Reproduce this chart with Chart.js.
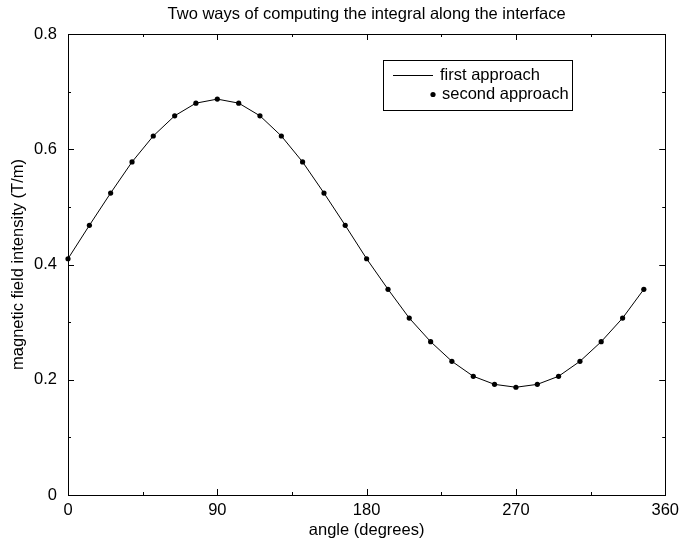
<!DOCTYPE html>
<html>
<head>
<meta charset="utf-8">
<script src="https://cdn.jsdelivr.net/npm/chart.js@4/dist/chart.umd.min.js"></script>
<style>
  html, body { margin: 0; padding: 0; background: #fff; }
</style>
</head>
<body>
<canvas id="chart" width="685" height="543"></canvas>
<script>
// sample angles (degrees) and field values for both methods
const angles = [0, 12.9, 25.7, 38.6, 51.4, 64.3, 77.1, 90, 102.9, 115.7, 128.6, 141.4, 154.3, 167.1,
  180, 192.9, 205.7, 218.6, 231.4, 244.3, 257.1, 270, 282.9, 295.7, 308.6, 321.4, 334.3, 347.1];
const firstApproach = [0.410, 0.468, 0.524, 0.578, 0.623, 0.658, 0.680, 0.687, 0.680, 0.658, 0.623, 0.578, 0.524, 0.468,
  0.410, 0.357, 0.307, 0.266, 0.232, 0.206, 0.192, 0.187, 0.192, 0.206, 0.232, 0.266, 0.307, 0.357];
const secondApproach = [0.410, 0.468, 0.524, 0.578, 0.623, 0.658, 0.680, 0.687, 0.680, 0.658, 0.623, 0.578, 0.524, 0.468,
  0.410, 0.357, 0.307, 0.266, 0.232, 0.206, 0.192, 0.187, 0.192, 0.206, 0.232, 0.266, 0.307, 0.357];

const xTicks = [0, 90, 180, 270, 360];
const xMinorTicks = [45, 135, 225, 315];
const yTicks = [0, 0.2, 0.4, 0.6, 0.8];
const yMinorTicks = [0.1, 0.3, 0.5, 0.7];

const titleText = 'Two ways of computing the integral along the interface';
const xTitle = 'angle (degrees)';
const yTitle = 'magnetic field intensity (T/m)';

const FONT = '"Liberation Sans", Arial, Helvetica, sans-serif';
const FS = 16.5;

// frame, inward ticks, titles and legend box
const framePlugin = {
  id: 'frame',
  afterDraw(chart) {
    const ctx = chart.ctx;
    const a = chart.chartArea;
    const xs = chart.scales.x, ys = chart.scales.y;
    ctx.save();
    ctx.strokeStyle = '#000';
    ctx.lineWidth = 1;
    ctx.strokeRect(Math.round(a.left) + 0.5, Math.round(a.top) + 0.5,
      Math.round(a.right - a.left), Math.round(a.bottom - a.top));

    const tick = (x1, y1, x2, y2) => {
      ctx.beginPath();
      ctx.moveTo(x1, y1);
      ctx.lineTo(x2, y2);
      ctx.stroke();
    };
    const xTick = (v, len) => {
      const px = Math.round(xs.getPixelForValue(v)) + 0.5;
      tick(px, a.bottom, px, a.bottom - len);
      tick(px, a.top, px, a.top + len);
    };
    const yTick = (v, len) => {
      const py = Math.round(ys.getPixelForValue(v)) + 0.5;
      tick(a.left, py, a.left + len, py);
      tick(a.right, py, a.right - len, py);
    };
    xTicks.forEach(v => xTick(v, 6));
    xMinorTicks.forEach(v => xTick(v, 3));
    yTicks.forEach(v => yTick(v, 6));
    yMinorTicks.forEach(v => yTick(v, 3));

    ctx.fillStyle = '#000';
    ctx.font = FS + 'px ' + FONT;
    ctx.textAlign = 'center';
    ctx.textBaseline = 'middle';
    const cx = (a.left + a.right) / 2;
    ctx.fillText(titleText, cx, 14);
    ctx.fillText(xTitle, cx, 530);
    ctx.save();
    ctx.translate(18, (a.top + a.bottom) / 2);
    ctx.rotate(-Math.PI / 2);
    ctx.fillText(yTitle, 0, 0);
    ctx.restore();

    // legend
    const ds = chart.data.datasets;
    ctx.strokeRect(383.5, 60.5, 189, 50);
    ctx.strokeStyle = ds[0].borderColor;
    ctx.lineWidth = ds[0].borderWidth;
    tick(393, 75.5, 433, 75.5);
    ctx.beginPath();
    ctx.arc(433, 94.5, ds[1].pointRadius, 0, Math.PI * 2);
    ctx.fillStyle = ds[1].backgroundColor;
    ctx.fill();
    ctx.fillStyle = '#000';
    ctx.textAlign = 'left';
    ctx.fillText(ds[0].label, 440, 75);
    ctx.fillText(ds[1].label, 442, 94.5);
    ctx.restore();
  }
};

new Chart(document.getElementById('chart'), {
  type: 'scatter',
  data: {
    datasets: [
      {
        label: 'first approach',
        data: angles.map((x, i) => ({ x: x, y: firstApproach[i] })),
        showLine: true,
        borderColor: '#000',
        borderWidth: 1,
        pointRadius: 0,
        clip: false,
      },
      {
        label: 'second approach',
        data: angles.map((x, i) => ({ x: x, y: secondApproach[i] })),
        showLine: false,
        backgroundColor: '#000',
        borderWidth: 0,
        pointRadius: 2.6,
        clip: false,
      },
    ],
  },
  options: {
    responsive: false,
    animation: false,
    layout: { padding: { left: 0, right: 12, top: 34, bottom: 0 } },
    plugins: { legend: { display: false }, tooltip: { enabled: false } },
    scales: {
      x: {
        type: 'linear',
        min: 0,
        max: 360,
        afterBuildTicks: s => { s.ticks = xTicks.map(v => ({ value: v })); },
        afterFit: s => { s.height = 48; },
        ticks: { color: '#000', font: { family: FONT, size: FS }, padding: 6, maxRotation: 0 },
        grid: { display: false, drawTicks: false },
        border: { display: false },
      },
      y: {
        type: 'linear',
        min: 0,
        max: 0.8,
        afterBuildTicks: s => { s.ticks = yTicks.map(v => ({ value: v })); },
        afterFit: s => { s.width = 68; },
        ticks: { color: '#000', font: { family: FONT, size: FS }, padding: 11,
          callback: v => String(v) },
        grid: { display: false, drawTicks: false },
        border: { display: false },
      },
    },
  },
  plugins: [framePlugin],
});
</script>
</body>
</html>
